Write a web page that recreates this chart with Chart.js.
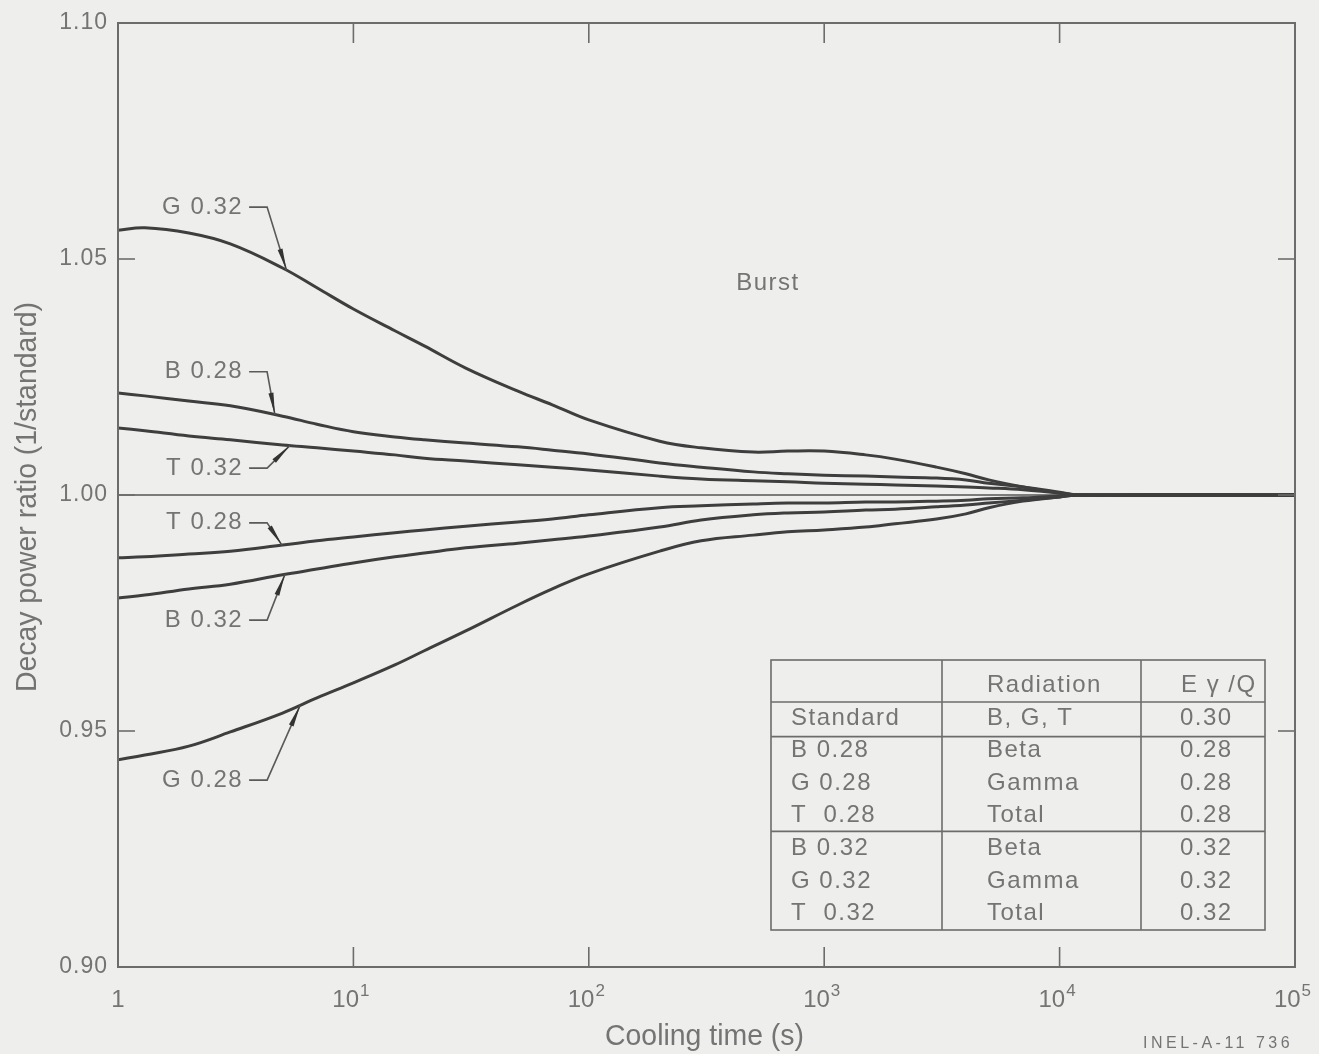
<!DOCTYPE html>
<html>
<head>
<meta charset="utf-8">
<script src="https://cdn.jsdelivr.net/npm/chart.js@4.4.1/dist/chart.umd.min.js"></script>
<style>
  html, body { margin: 0; padding: 0; background: #eeeeec; }
  #contenedor { width: 1319px; height: 1054px; }
</style>
</head>
<body>
<div id="contenedor"><canvas id="grafica"></canvas></div>
<script>
// Tiempo de enfriamiento (s)
const tiempos = [1, 1.3, 2, 3, 5, 7, 10, 15, 20, 30, 50, 70, 100, 200, 300, 500, 700, 1000, 1500, 2000, 3000, 4000, 5000, 7000, 10000, 12000, 100000];

// Razon de potencia de decaimiento respecto al estandar
const g032 = [1.0561, 1.0566, 1.0555, 1.0532, 1.0481, 1.0439, 1.0394, 1.0348, 1.0316, 1.0269, 1.0220, 1.0191, 1.0159, 1.0114, 1.0100, 1.0091, 1.0093, 1.0093, 1.0085, 1.0076, 1.0059, 1.0045, 1.0032, 1.0017, 1.0004, 1.0000, 1.0000];
const b028 = [1.0216, 1.0210, 1.0199, 1.0189, 1.0167, 1.0150, 1.0134, 1.0123, 1.0117, 1.0110, 1.0102, 1.0095, 1.0087, 1.0068, 1.0059, 1.0049, 1.0045, 1.0042, 1.0040, 1.0038, 1.0036, 1.0032, 1.0025, 1.0017, 1.0006, 1.0000, 1.0000];
const t032 = [1.0142, 1.0136, 1.0125, 1.0117, 1.0106, 1.0100, 1.0093, 1.0085, 1.0078, 1.0072, 1.0064, 1.0059, 1.0053, 1.0040, 1.0034, 1.0030, 1.0028, 1.0025, 1.0023, 1.0021, 1.0019, 1.0017, 1.0015, 1.0011, 1.0004, 1.0000, 1.0000];
const t028 = [0.9867, 0.9869, 0.9875, 0.9881, 0.9894, 0.9903, 0.9911, 0.9920, 0.9926, 0.9934, 0.9943, 0.9949, 0.9958, 0.9973, 0.9977, 0.9981, 0.9983, 0.9983, 0.9985, 0.9985, 0.9987, 0.9989, 0.9992, 0.9994, 0.9998, 1.0000, 1.0000];
const b032 = [0.9782, 0.9788, 0.9801, 0.9811, 0.9831, 0.9843, 0.9856, 0.9869, 0.9877, 0.9888, 0.9898, 0.9905, 0.9913, 0.9932, 0.9947, 0.9958, 0.9962, 0.9964, 0.9968, 0.9970, 0.9975, 0.9979, 0.9983, 0.9989, 0.9996, 1.0000, 1.0000];
const g028 = [0.9439, 0.9449, 0.9468, 0.9498, 0.9538, 0.9570, 0.9602, 0.9640, 0.9670, 0.9712, 0.9767, 0.9801, 0.9833, 0.9881, 0.9903, 0.9915, 0.9922, 0.9926, 0.9932, 0.9939, 0.9949, 0.9960, 0.9973, 0.9987, 0.9996, 1.0000, 1.0000];
const estandar = tiempos.map(() => 1.0);

const nombres = ["G 0.32", "B 0.28", "T 0.32", "T 0.28", "B 0.32", "G 0.28"];
const series = [g032, b028, t032, t028, b032, g028];

// Marcas de los ejes
const marcasX = [1, 10, 100, 1000, 10000, 100000];
const baseX = ["1", "10", "10", "10", "10", "10"];
const expX = ["", "1", "2", "3", "4", "5"];
const marcasY = [0.90, 0.95, 1.00, 1.05, 1.10];
const etiquetasY = ["0.90", "0.95", "1.00", "1.05", "1.10"];

// Rotulos con flecha: valor del rotulo y tiempo donde la flecha toca la curva
const rotuloV = [1.0610, 1.0261, 1.0057, 0.9941, 0.9735, 0.9396];
const rotuloT = [5.2, 4.64, 5.37, 4.97, 5.12, 5.94];

// Tabla de claves
const tablaEncabezado = ["", "Radiation", "E \u03b3 /Q"];
const tablaFilas = [
    ["Standard", "B, G, T", "0.30"],
    ["B 0.28", "Beta", "0.28"],
    ["G 0.28", "Gamma", "0.28"],
    ["T  0.28", "Total", "0.28"],
    ["B 0.32", "Beta", "0.32"],
    ["G 0.32", "Gamma", "0.32"],
    ["T  0.32", "Total", "0.32"]
];

const colorTexto = "#747474";
const colorCurva = "#3e3e3e";
const fuente = '"Liberation Sans", Arial, sans-serif';

function valorEn(serie, t) {
    const lt = Math.log10(t);
    for (let i = 0; i < tiempos.length - 1; i++) {
        const a = Math.log10(tiempos[i]);
        const b = Math.log10(tiempos[i + 1]);
        if (lt >= a && lt <= b) {
            const f = (lt - a) / (b - a);
            return serie[i] + f * (serie[i + 1] - serie[i]);
        }
    }
    return serie[serie.length - 1];
}

function linea(ctx, x1, y1, x2, y2) {
    ctx.beginPath();
    ctx.moveTo(x1, y1);
    ctx.lineTo(x2, y2);
    ctx.stroke();
}

const dibujo = {
    id: "dibujo",
    beforeDraw(chart) {
        const ctx = chart.ctx;
        ctx.save();
        ctx.fillStyle = "#eeeeec";
        ctx.fillRect(0, 0, chart.width, chart.height);
        ctx.restore();
    },
    afterDatasetsDraw(chart) {
        const { ctx, chartArea: a, scales: { x, y } } = chart;
        ctx.save();

        // marco
        ctx.strokeStyle = "#6c6c6c";
        ctx.lineWidth = 2;
        ctx.strokeRect(a.left, a.top, a.width, a.height);

        // marcas hacia adentro
        ctx.lineWidth = 1.6;
        marcasX.forEach(v => {
            if (v === 1 || v === 100000) return;
            const px = x.getPixelForValue(v);
            linea(ctx, px, a.top, px, a.top + 20);
            linea(ctx, px, a.bottom, px, a.bottom - 20);
        });
        marcasY.forEach(v => {
            if (v === 0.90 || v === 1.10) return;
            const py = y.getPixelForValue(v);
            linea(ctx, a.left, py, a.left + 17, py);
            linea(ctx, a.right - 17, py, a.right, py);
        });

        // etiquetas del eje Y
        ctx.fillStyle = colorTexto;
        ctx.font = "23px " + fuente;
        ctx.letterSpacing = "1px";
        ctx.textAlign = "right";
        ctx.textBaseline = "middle";
        marcasY.forEach((v, i) => {
            ctx.fillText(etiquetasY[i], a.left - 10, y.getPixelForValue(v));
        });

        // etiquetas del eje X con exponente
        ctx.letterSpacing = "0px";
        ctx.textBaseline = "alphabetic";
        ctx.textAlign = "left";
        marcasX.forEach((v, i) => {
            const px = x.getPixelForValue(v);
            ctx.font = "24px " + fuente;
            const wb = ctx.measureText(baseX[i]).width;
            ctx.font = "17px " + fuente;
            const we = ctx.measureText(expX[i]).width;
            const x0 = px - (wb + we) / 2 - (expX[i] ? 3 : 0);
            ctx.font = "24px " + fuente;
            ctx.fillText(baseX[i], x0, a.bottom + 40);
            ctx.font = "17px " + fuente;
            ctx.fillText(expX[i], x0 + wb + 1, a.bottom + 29);
        });

        // titulos de los ejes
        ctx.font = "29px " + fuente;
        ctx.textAlign = "center";
        ctx.save();
        ctx.translate((a.left + a.right) / 2 - 2, a.bottom + 78);
        ctx.scale(0.98, 1);
        ctx.fillText("Cooling time (s)", 0, 0);
        ctx.restore();
        ctx.save();
        ctx.translate(36, (a.top + a.bottom) / 2 + 2);
        ctx.rotate(-Math.PI / 2);
        ctx.scale(0.98, 1);
        ctx.fillText("Decay power ratio (1/standard)", 0, 0);
        ctx.restore();

        // texto "Burst"
        ctx.font = "24px " + fuente;
        ctx.letterSpacing = "1.5px";
        ctx.textBaseline = "middle";
        ctx.fillText("Burst", x.getPixelForValue(577), y.getPixelForValue(1.0449));

        // rotulos con flecha
        const xTexto = x.getPixelForValue(3.4);
        ctx.textAlign = "right";
        nombres.forEach((nombre, i) => {
            const ty = y.getPixelForValue(rotuloV[i]);
            ctx.fillStyle = colorTexto;
            ctx.fillText(nombre, xTexto, ty);
            const px = x.getPixelForValue(rotuloT[i]);
            const py = y.getPixelForValue(valorEn(series[i], rotuloT[i]));
            const codoX = xTexto + 24;
            ctx.strokeStyle = "#5a5a5a";
            ctx.lineWidth = 1.6;
            ctx.beginPath();
            ctx.moveTo(xTexto + 6, ty);
            ctx.lineTo(codoX, ty);
            ctx.lineTo(px, py);
            ctx.stroke();
            // punta de flecha alargada
            const dx = px - codoX, dy = py - ty;
            const d = Math.hypot(dx, dy);
            const ux = dx / d, uy = dy / d;
            const largo = 22;
            ctx.fillStyle = "#333";
            ctx.beginPath();
            ctx.moveTo(px, py);
            ctx.lineTo(px - ux * largo + uy * 2.5, py - uy * largo - ux * 2.5);
            ctx.lineTo(px - ux * largo - uy * 2.5, py - uy * largo + ux * 2.5);
            ctx.closePath();
            ctx.fill();
        });

        // tabla de claves
        const tDer = a.right - 30, tAbajo = a.bottom - 37;
        const tIzq = tDer - 494, tArriba = tAbajo - 270;
        const col1 = tIzq + 171, col2 = tIzq + 370;
        const altoEnc = 42, altoFila = 32.6;
        ctx.strokeStyle = "#6c6c6c";
        ctx.lineWidth = 1.6;
        ctx.strokeRect(tIzq, tArriba, tDer - tIzq, tAbajo - tArriba);
        linea(ctx, col1, tArriba, col1, tAbajo);
        linea(ctx, col2, tArriba, col2, tAbajo);
        const yEnc = tArriba + altoEnc;
        linea(ctx, tIzq, yEnc, tDer, yEnc);
        linea(ctx, tIzq, yEnc + altoFila + 2, tDer, yEnc + altoFila + 2);
        linea(ctx, tIzq, yEnc + altoFila * 4 - 1, tDer, yEnc + altoFila * 4 - 1);
        ctx.fillStyle = colorTexto;
        ctx.font = "24px " + fuente;
        ctx.letterSpacing = "1.5px";
        ctx.textBaseline = "middle";
        ctx.textAlign = "left";
        ctx.fillText(tablaEncabezado[1], col1 + 45, tArriba + 25);
        ctx.fillText(tablaEncabezado[2], col2 + 40, tArriba + 25);
        tablaFilas.forEach((fila, i) => {
            const fy = yEnc + 16 + i * altoFila;
            ctx.fillText(fila[0], tIzq + 20, fy);
            ctx.fillText(fila[1], col1 + 45, fy);
            ctx.fillText(fila[2], col2 + 39, fy);
        });

        // codigo de la figura
        ctx.font = "16px " + fuente;
        ctx.letterSpacing = "3.5px";
        ctx.textAlign = "left";
        ctx.textBaseline = "alphabetic";
        ctx.fillText("INEL-A-11 736", 1143, 1048);

        ctx.restore();
    }
};

const ctx = document.getElementById("grafica").getContext("2d");

const conjuntos = series.map((s, i) => ({
    label: nombres[i],
    data: tiempos.map((t, j) => ({ x: t, y: s[j] })),
    borderColor: colorCurva,
    borderWidth: 3,
    pointRadius: 0,
    tension: 0.4,
    fill: false
}));
conjuntos.push({
    label: "Standard",
    data: tiempos.map((t, j) => ({ x: t, y: estandar[j] })),
    borderColor: "#555",
    borderWidth: 1.6,
    pointRadius: 0,
    fill: false
});

new Chart(ctx, {
    type: "line",
    data: { datasets: conjuntos },
    options: {
        responsive: true,
        maintainAspectRatio: false,
        animation: false,
        layout: { padding: { left: 118, right: 24, top: 23, bottom: 87 } },
        plugins: {
            legend: { display: false },
            tooltip: { enabled: false }
        },
        scales: {
            x: { type: "logarithmic", min: 1, max: 100000, display: false },
            y: { type: "linear", min: 0.90, max: 1.10, display: false }
        }
    },
    plugins: [dibujo]
});
</script>
</body>
</html>
